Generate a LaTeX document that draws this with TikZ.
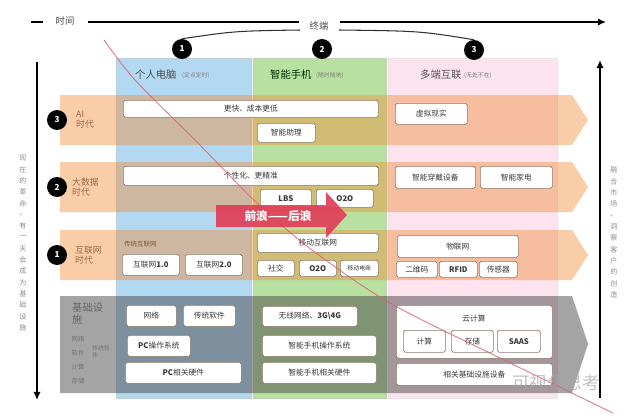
\documentclass[tikz,border=0pt]{standalone}
\usepackage{fontspec}
\setmainfont{Noto Sans CJK SC}
\usetikzlibrary{arrows.meta}
\definecolor{colblue}{HTML}{B3D8F2}
\definecolor{colgreen}{HTML}{B8E0A0}
\definecolor{colpink}{HTML}{FCE3EE}
\definecolor{bandor}{HTML}{F0913E}
\definecolor{bandgray}{HTML}{4A4A4A}
\definecolor{boxline}{HTML}{8C7B6B}
\definecolor{txt}{HTML}{3A3A3A}
\definecolor{labtxt}{HTML}{A0684A}
\definecolor{redline}{HTML}{D8606E}
\definecolor{redarrow}{HTML}{E0405A}
\newcommand{\mybox}[6]{\node[wbox, anchor=north west, minimum width={(#4-#2)*0.03cm}, minimum height={(#5-#3)*0.03cm}] (#1) at (#2,#3) {#6};}
\tikzset{
  wbox/.style={draw=boxline, line width=0.6pt, fill=white, rounded corners=1.5pt, font=\fontsize{6.6}{7}\selectfont, text=txt, inner sep=0pt},
  numcirc/.style={circle, fill=black, text=white, minimum size=0.6cm, inner sep=0pt, font=\bfseries\fontsize{7}{7}\selectfont},
  axis/.style={line width=1.5pt, black},
  arcline/.style={line width=0.9pt, black!80},
  bandlab/.style={text=labtxt, font=\fontsize{7.5}{8.5}\selectfont, align=left, anchor=west, inner sep=0pt},
  headtxt/.style={font=\fontsize{8.8}{9}\selectfont, anchor=west, inner sep=0pt},
  subtxt/.style={font=\fontsize{5}{5}\selectfont, anchor=west, inner sep=0pt, text=black!50},
  vtxt/.style={font=\fontsize{6}{6}\selectfont, text=black!45, inner sep=0pt},
  graylab/.style={font=\fontsize{5.5}{6}\selectfont, text=black!55, inner sep=0pt},
}
\begin{document}
\begin{tikzpicture}[x=0.03cm,y=-0.03cm]
\useasboundingbox (0,0) rectangle (640,419);
\fill[white] (0,0) rectangle (640,419);

% columns
\filldraw[fill=colblue, draw=colblue!80!black!60, line width=0.4pt] (116,58) rectangle (251,398);
\filldraw[fill=colgreen, draw=colgreen!80!black!60, line width=0.4pt] (253,58) rectangle (386,398);
\filldraw[fill=colpink, draw=colpink!80!black!40, line width=0.4pt] (388,58) rectangle (557,398);

% headers
\node[headtxt, text=black!70] (h1) at (135,75) {个人电脑};
\node[subtxt] (h1s) at (182,76) {(定点定时)};
\node[headtxt, text=black!55!green!40!black] (h2) at (270,75) {智能手机};
\node[subtxt] (h2s) at (316,76) {(随时随地)};
\node[headtxt, text=black!65] (h3) at (420,75) {多端互联};
\node[subtxt] (h3s) at (464,76) {(无处不在)};

% bands
\fill[bandor, opacity=0.45] (60,95) -- (572,95) -- (588,120) -- (572,145) -- (60,145) -- cycle;
\fill[bandor, opacity=0.45] (60,162) -- (572,162) -- (588,187) -- (572,212) -- (60,212) -- cycle;
\fill[bandor, opacity=0.45] (60,230) -- (572,230) -- (588,255) -- (572,280) -- (60,280) -- cycle;
\fill[bandgray, opacity=0.5] (60,296) -- (572,296) -- (588,344) -- (572,393) -- (60,393) -- cycle;

% time axis
\coordinate (t0) at (31,22);
\coordinate (t1) at (43,22);
\coordinate (t2) at (88,22);
\coordinate (t3) at (299,22);
\coordinate (t4) at (340,22);
\coordinate (t5) at (606,22);
\draw[axis] (t0) -- (t1);
\node[font=\fontsize{8}{8}\selectfont, text=black!70] (time) at (65,21) {时间};
\draw[axis] (t2) -- (t3);
\node[font=\fontsize{8}{8}\selectfont, text=black!70] (term) at (319,26) {终端};
\draw[axis, -{Latex[length=7pt,width=6.5pt]}] (t4) -- (t5);

% circles on top
\node[numcirc] (c1) at (182,49) {1};
\node[numcirc] (c2) at (322,49) {2};
\node[numcirc] (c3) at (474,50) {3};
\coordinate (al) at (300,30);
\coordinate (ar) at (339,30);
\draw[arcline] (al) .. controls (235,31) .. (c1.north);
\draw[arcline] (ar) .. controls (420,31) .. (c3.north);

% vertical axes
\coordinate (lv0) at (37,62);
\coordinate (lv1) at (37,400);
\coordinate (rv0) at (600,398);
\coordinate (rv1) at (600,60);
\draw[axis, -{Latex[length=7pt,width=6.5pt]}] (lv0) -- (lv1);
\draw[axis, -{Latex[length=7pt,width=6.5pt]}] (rv0) -- (rv1);

% vertical texts
\foreach \c [count=\i] in {现,在,的,革,命,、,有,一,天,会,成,为,基,础,设,施}
  \node[vtxt] (vl\i) at (23,{158+(\i-1)*11.33}) {\c};
\foreach \c [count=\i] in {融,合,市,场,、,洞,察,客,户,的,创,造}
  \node[vtxt] (vr\i) at (614,{170+(\i-1)*11.36}) {\c};

% left row labels
\node[numcirc] (l3) at (57,120) {3};
\node[numcirc] (l2) at (57,187) {2};
\node[numcirc] (l1) at (57,255) {1};
\node[bandlab] (lab3) at (76,120) {AI\\时代};
\node[bandlab] (lab2) at (72,187) {大数据\\时代};
\node[bandlab] (lab1) at (75,255) {互联网\\时代};
\node[font=\fontsize{8.8}{10}\selectfont, text=black!60, align=left, anchor=north west, inner sep=0pt] (base) at (72,303) {基础设\\施};
\node[graylab] (g1) at (78,339) {网络};
\node[graylab] (g2) at (78,353) {软件};
\node[graylab] (g3) at (78,367) {计算};
\node[graylab] (g4) at (78,381) {存储};
\node[graylab, align=left, anchor=north west, font=\fontsize{5}{6}\selectfont] (g5) at (92,345) {传统软\\件};

% AI row
\mybox{b1}{123}{100}{378}{117}{更快、成本更低}
\mybox{b2}{257}{123}{315}{142}{智能助理}
\mybox{b3}{395}{103}{467}{124}{虚拟现实}
% big data row
\mybox{b4}{123}{166}{378}{185}{个性化、更精准}
\mybox{b5}{260}{189}{311}{207}{\bfseries LBS}
\mybox{b6}{316}{189}{373}{207}{\bfseries O2O}
\mybox{b7}{395}{166}{475}{188}{智能穿戴设备}
\mybox{b8}{480}{166}{552}{188}{智能家电}
% internet row
\node[font=\fontsize{5.5}{6}\selectfont, text=labtxt!80!black, anchor=west, inner sep=0pt] (trad) at (124,244) {传统互联网};
\mybox{b9}{122}{254}{179}{275}{互联网\bfseries 1.0}
\mybox{b10}{185}{254}{242}{275}{互联网\bfseries 2.0}
\mybox{b11}{257}{233}{378}{252}{移动互联网}
\mybox{b12}{257}{260}{294}{276}{社交}
\mybox{b13}{299}{260}{336}{276}{\bfseries O2O}
\mybox{b14}{340}{260}{378}{276}{\fontsize{5}{5}\selectfont 移动电商}
\mybox{b15}{397}{235}{518}{257}{物联网}
\mybox{b16}{396}{261}{437}{277}{二维码}
\mybox{b17}{439}{261}{477}{277}{\bfseries RFID}
\mybox{b18}{479}{261}{517}{277}{传感器}
% base row
\mybox{b19}{126}{305}{176}{326}{网络}
\mybox{b20}{183}{305}{235}{326}{传统软件}
\mybox{b21}{127}{335}{190}{356}{\textbf{PC}操作系统}
\mybox{b22}{125}{362}{241}{383}{\textbf{PC}相关硬件}
\mybox{b23}{262}{306}{357}{326}{无线网络、\textbf{3G\textbackslash4G}}
\mybox{b24}{262}{335}{376}{356}{智能手机操作系统}
\mybox{b25}{262}{362}{376}{383}{智能手机相关硬件}
\mybox{b26}{396}{305}{552}{358}{}
\node[font=\fontsize{6.6}{7}\selectfont, text=txt, inner sep=0pt] (cloud) at (474,319) {云计算};
\mybox{b27}{403}{330}{445}{352}{计算}
\mybox{b28}{451}{330}{493}{352}{存储}
\mybox{b29}{497}{330}{540}{352}{\bfseries SAAS}
\mybox{b30}{396}{363}{552}{385}{相关基础设施设备}

% diagonal line
\draw[redline, opacity=0.8, line width=0.8pt] plot[smooth] coordinates {(104,40) (135,80) (196,141) (257,203) (312,250) (390,303) (500,358) (613,413)};

% big red arrow
\fill[redarrow, opacity=0.93] (216,205) -- (326,205) -- (326,192) -- (347,215) -- (326,238) -- (326,227) -- (216,227) -- cycle;
\node[text=white, font=\bfseries\fontsize{10}{10}\selectfont, inner sep=0pt] (wave) at (278,216) {前浪——后浪};

% watermark
\node[text=black!35, opacity=0.7, font=\fontsize{15}{15}\selectfont, inner sep=0pt, anchor=west] (wm) at (512,383) {可视化思考};
\end{tikzpicture}
\end{document}
